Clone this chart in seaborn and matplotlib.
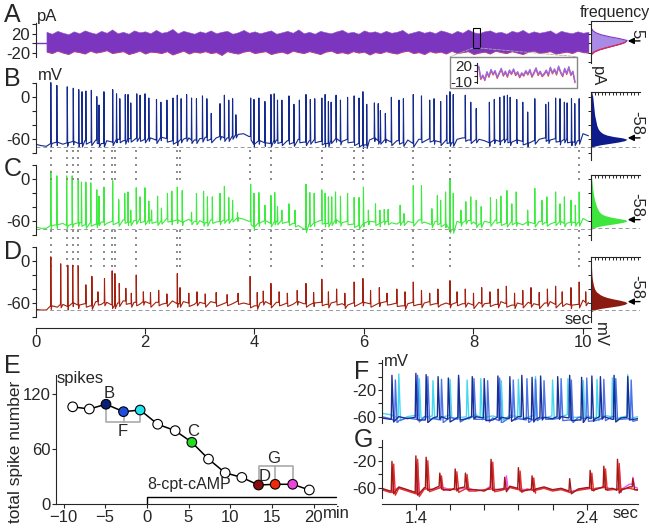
import numpy as np
import matplotlib
matplotlib.use('Agg')
import matplotlib.pyplot as plt
import seaborn as sns
from matplotlib.patches import Rectangle, ConnectionPatch
from matplotlib.transforms import blended_transform_factory

sns.set_style('ticks')
plt.rcParams['font.family'] = ['Liberation Sans', 'DejaVu Sans']
plt.rcParams['axes.linewidth'] = 0.8

# ---------------- data ----------------
# A: current band envelope (pA), sampled every 0.1 s from 0.2 s
a_upper = [24, 20, 26, 22, 19, 25, 21, 27, 23, 20, 26, 22, 29, 21, 24, 20, 27, 23, 25, 21,
           28, 22, 24, 30, 21, 26, 23, 20, 25, 22, 27, 21, 24, 26, 20, 23, 28, 22, 25, 21,
           24, 27, 20, 23, 26, 22, 29, 21, 24, 20, 26, 23, 21, 25, 28, 22, 24, 20, 27, 23,
           25, 21, 26, 22, 24, 28, 20, 23, 26, 22, 25, 21, 27, 24, 20, 26, 22, 29, 23, 21,
           25, 27, 22, 24, 20, 26, 23, 28, 21, 25, 22, 24, 27, 20, 26, 23, 21, 25, 22, 24]
a_lower = [-17, -20, -15, -19, -22, -16, -18, -21, -15, -19, -17, -14, -20, -18, -16, -22, -19, -15, -21, -17,
           -18, -20, -16, -23, -19, -15, -21, -17, -19, -16, -20, -18, -24, -16, -19, -21, -17, -15, -20, -18,
           -16, -22, -19, -17, -21, -15, -18, -20, -16, -19, -22, -17, -15, -20, -18, -21, -16, -19, -17, -23,
           -18, -20, -16, -19, -21, -17, -15, -20, -18, -22, -16, -19, -17, -21, -15, -20, -18, -16, -22, -19,
           -17, -21, -15, -18, -20, -16, -19, -22, -17, -15, -20, -18, -16, -21, -19, -17, -20, -15, -18, -19]
inset_pa = [18, -4, 2, -6, 8, 0, 12, 4, 10, -2, 6, 14, 2, 9, 0, 11, 5, 13, 3, 8, -1, 6, 2, 10,
            4, 12, 0, 7, 15, 3, 9, 1, 5, 11, 2, 16, 6, 13, 4, 18, 8, 1, 14, 5, 17, 3, 9, -10]

# B, C, D: membrane potential baseline (mV) every 0.1 s, 0 .. 10.1 s
b_base = [-67, -69, -70, -66, -64, -67, -65, -63, -66, -62,
          -64, -61, -66, -62, -64, -60, -62, -59, -61, -58,
          -60, -58, -61, -57, -59, -62, -64, -60, -58, -61,
          -59, -57, -60, -58, -56, -58, -55, -53, -52, -56,
          -67, -62, -65, -66, -61, -64, -62, -65, -60, -64,
          -62, -60, -63, -66, -61, -59, -63, -60, -64, -66,
          -68, -61, -58, -62, -60, -64, -62, -65, -61, -66,
          -60, -63, -59, -62, -64, -61, -65, -60, -58, -61,
          -63, -60, -62, -65, -61, -63, -60, -64, -61, -63,
          -66, -62, -60, -58, -61, -59, -63, -60, -64, -62,
          -52, -55]
c_base = [-68, -70, -70, -66, -65, -63, -66, -64, -62, -65,
          -62, -64, -61, -63, -60, -62, -58, -61, -59, -57,
          -60, -58, -61, -59, -56, -60, -58, -61, -57, -60,
          -59, -62, -58, -61, -60, -58, -56, -55, -57, -60,
          -68, -62, -59, -63, -60, -58, -61, -63, -66, -71,
          -63, -62, -59, -63, -61, -58, -62, -60, -64, -66,
          -63, -60, -61, -63, -60, -62, -64, -61, -60, -62,
          -58, -61, -64, -60, -63, -64, -72, -60, -62, -59,
          -61, -64, -60, -62, -58, -61, -63, -60, -62, -65,
          -61, -63, -60, -62, -64, -61, -60, -63, -61, -62,
          -56, -60]
d_base = [-69, -70, -70, -64, -66, -62, -65, -60, -63, -61,
          -64, -58, -62, -59, -63, -60, -57, -61, -59, -62,
          -58, -61, -59, -62, -60, -57, -61, -58, -60, -62,
          -59, -61, -58, -60, -62, -59, -61, -57, -60, -62,
          -64, -60, -58, -62, -59, -63, -60, -62, -58, -61,
          -63, -60, -59, -62, -60, -58, -61, -63, -60, -62,
          -59, -61, -63, -60, -58, -62, -60, -64, -61, -59,
          -62, -60, -58, -61, -63, -60, -62, -59, -61, -60,
          -63, -59, -61, -60, -62, -58, -61, -63, -60, -62,
          -59, -61, -63, -60, -58, -62, -60, -61, -63, -62,
          -56, -59]

# spikes: (time s, peak mV)
b_spikes = [(0.28, 21), (0.39, 17), (0.58, 15), (0.69, 13), (0.79, 11), (0.85, 8), (0.92, 9), (1.02, 10),
            (1.12, 1), (1.16, -11), (1.25, 8), (1.41, 11), (1.48, 5), (1.54, -2), (1.64, 4), (1.69, 4),
            (1.74, -8), (1.85, 5), (1.91, 3), (2.0, 5), (2.07, -1), (2.21, -3), (2.29, -7), (2.4, -4),
            (2.51, -1), (2.59, 3), (2.66, -2), (2.76, 4), (2.85, -1), (2.94, -2), (3.05, 2), (3.13, -2),
            (3.21, -23), (3.37, -9), (3.45, 3), (3.53, -4), (3.6, -2), (3.66, -25), (3.93, -1), (3.99, -3),
            (4.08, -1), (4.19, -6), (4.3, 4), (4.36, 5), (4.42, -4), (4.5, -4), (4.63, 2), (4.72, -10),
            (4.82, -4), (4.94, 4), (5.02, -3), (5.1, -2), (5.23, -1), (5.29, 4), (5.35, -6), (5.4, -7),
            (5.49, 3), (5.57, -4), (5.7, 0), (5.82, 2), (5.91, -1), (5.98, 8), (6.05, -10), (6.19, -8),
            (6.26, -9), (6.3, -19), (6.39, -23), (6.5, 0), (6.64, -4), (6.72, -2), (6.9, 4), (7.05, 2),
            (7.2, -4), (7.28, -2), (7.4, -6), (7.51, 3), (7.57, 8), (7.63, 4), (7.85, 3), (7.95, -7),
            (8.05, -16), (8.29, -7), (8.38, -3), (8.48, 0), (8.56, 2), (8.62, 3), (8.67, 0), (8.79, -3),
            (8.9, -7), (8.99, -21), (9.12, -2), (9.32, -10), (9.37, -7), (9.5, -1), (9.58, -2), (9.66, -7),
            (9.71, -8), (9.79, -2), (9.85, -9), (9.93, -2)]
c_spikes = [(0.28, 12), (0.39, 5), (0.57, 5), (0.67, 5), (0.78, -1), (0.84, -4), (0.92, -4), (1.01, -5),
            (1.12, -15), (1.16, -24), (1.25, -11), (1.41, -2), (1.52, -29), (1.63, -20), (1.69, -18),
            (1.74, -44), (1.84, -12), (1.91, -25), (2.0, -12), (2.07, -31), (2.12, -44), (2.23, -24),
            (2.3, -41), (2.41, -20), (2.49, -17), (2.59, -11), (2.68, -16), (2.85, -47), (2.94, -20),
            (3.07, -17), (3.14, -25), (3.23, -25), (3.37, -20), (3.45, -10), (3.53, -26), (3.6, -30),
            (3.69, -47), (3.93, -7), (3.99, -20), (4.08, -19), (4.19, -37), (4.3, -23), (4.37, -19),
            (4.42, -39), (4.5, -44), (4.63, -35), (4.74, -44), (4.94, -7), (5.01, -19), (5.09, -20),
            (5.23, -15), (5.29, -20), (5.35, -25), (5.41, -25), (5.48, -18), (5.57, -24), (5.7, -20),
            (5.82, -26), (5.91, -26), (5.99, -11), (6.08, -44), (6.21, -35), (6.29, -44), (6.37, -43),
            (6.44, -43), (6.66, -37), (6.73, -49), (6.9, -9), (7.05, -9), (7.24, -42), (7.34, -23),
            (7.4, -30), (7.49, -18), (7.57, 1), (7.63, -20), (7.77, -44), (7.86, -32), (7.95, -25),
            (8.05, -30), (8.14, -39), (8.31, -26), (8.42, -29), (8.5, -24), (8.61, -16), (8.7, -35),
            (8.78, -18), (8.99, -44), (9.12, -13), (9.25, -30), (9.34, -25), (9.5, -18), (9.58, -35),
            (9.66, -25), (9.78, -30), (9.86, -37), (9.93, -18)]
d_spikes = [(0.28, 6), (0.46, -4), (0.59, -6), (0.68, -6), (0.78, -8), (0.92, -34), (1.03, -22),
            (1.14, -44), (1.26, -25), (1.40, -14), (1.45, -18), (1.53, -32), (1.65, -39), (1.75, -46),
            (1.84, -20), (1.97, -44), (2.1, -45), (2.25, -42), (2.4, -47), (2.59, -18), (2.64, -38),
            (2.8, -46), (2.95, -44), (3.1, -47), (3.3, -45), (3.5, -48), (3.7, -46), (3.92, -22),
            (4.05, -45), (4.16, -43), (4.30, -32), (4.45, -44), (4.6, -46), (4.78, -42), (4.94, -32),
            (5.08, -45), (5.23, -26), (5.35, -44), (5.5, -40), (5.65, -46), (5.82, -30), (5.98, -25),
            (6.12, -42), (6.28, -38), (6.42, -46), (6.6, -40), (6.75, -44), (6.9, -30), (7.05, -42),
            (7.2, -46), (7.35, -40), (7.57, -28), (7.7, -44), (7.85, -40), (8.0, -46), (8.15, -38),
            (8.3, -44), (8.45, -40), (8.6, -36), (8.75, -46), (8.9, -42), (9.05, -38), (9.2, -45),
            (9.35, -40), (9.5, -36), (9.62, -44), (9.78, -38), (9.93, -30), (10.05, -44)]

# times of the spikes shared by B, C and D (dotted lines)
shared_t = [0.28, 0.57, 0.68, 0.78, 1.02, 1.25, 1.40, 1.46, 1.84, 2.58, 2.64, 3.92, 4.30,
            5.23, 5.82, 5.98, 6.9, 7.57, 9.93]

# amplitude histograms
hist_a_pa = [-26, -22, -18, -14, -10, -6, -2, 2, 6, 10, 14, 18, 22, 26, 30, 34]
hist_a_f = [0, 0.03, 0.1, 0.22, 0.4, 0.6, 0.8, 0.95, 1.0, 0.78, 0.5, 0.28, 0.14, 0.06, 0.02, 0]
hist_mv = [-74, -72, -70, -68, -66, -64, -62, -60, -58, -56, -54, -52, -50, -48, -46, -44,
           -40, -35, -30, -25, -20, -15, -10, -5, 0, 5, 10, 15]
hist_b_f = [0, 0.02, 0.08, 0.25, 0.5, 0.75, 0.93, 1.0, 0.88, 0.62, 0.44, 0.34, 0.28, 0.24, 0.21,
            0.19, 0.16, 0.14, 0.12, 0.1, 0.09, 0.08, 0.07, 0.06, 0.05, 0.03, 0.015, 0]
hist_c_f = [0, 0.02, 0.06, 0.18, 0.4, 0.66, 0.88, 1.0, 0.95, 0.72, 0.52, 0.38, 0.3, 0.25, 0.22,
            0.2, 0.16, 0.13, 0.1, 0.08, 0.065, 0.05, 0.04, 0.03, 0.02, 0.01, 0.005, 0]
hist_d_f = [0, 0.02, 0.08, 0.24, 0.5, 0.76, 0.93, 1.0, 0.95, 0.8, 0.6, 0.44, 0.33, 0.25, 0.2,
            0.15, 0.1, 0.07, 0.05, 0.035, 0.025, 0.02, 0.015, 0.01, 0.008, 0.004, 0.002, 0]

# E: spike count over time
e_min = [-8.9, -6.9, -4.9, -2.8, -0.8, 1.3, 3.4, 5.4, 7.4, 9.4, 11.4, 13.4, 15.4, 17.5, 19.5]
e_spk = [106, 103.6, 108.8, 100.7, 102.5, 87, 80, 67.3, 49, 34, 29, 20.7, 21.5, 21.5, 15.3]
e_cond = ['ctl', 'ctl', 'B', 'F2', 'F3', 'ctl', 'ctl', 'C', 'ctl', 'ctl', 'ctl', 'D', 'G2', 'G3', 'ctl']
e_colors = {'ctl': 'white', 'B': '#0b1f7a', 'F2': '#1d4ce0', 'F3': '#22e3ef', 'C': '#22dd22',
            'D': '#8b0c0c', 'G2': '#ee2a08', 'G3': '#ee44dd'}

# F and G: overlaid traces, baseline every 0.05 s from 1.2 s
f_navy = [-62, -64, -60, -63, -61, -65, -62, -60, -64, -61, -63, -60, -62, -65, -61, -63,
          -60, -62, -64, -61, -63, -60, -62, -65, -61, -63, -60, -64, -62, -61, -63]
f_blue = [-60, -63, -66, -62, -64, -60, -63, -65, -61, -64, -62, -60, -64, -62, -66, -61,
          -63, -65, -62, -60, -64, -62, -65, -61, -63, -66, -62, -60, -64, -63, -65]
f_cyan = [-55, -57, -62, -60, -58, -62, -59, -61, -58, -62, -60, -57, -61, -59, -62, -58,
          -60, -61, -58, -62, -59, -60, -57, -61, -59, -62, -58, -60, -61, -59, -60]
f_navy_sp = [(1.26, 2), (1.40, 5), (1.46, 3), (1.53, 0), (1.59, -2), (1.65, 2), (1.73, 0), (1.80, -3),
             (1.88, 1), (1.95, 0), (2.02, 2), (2.08, -1), (2.13, 1), (2.23, 0), (2.30, 2), (2.37, -1),
             (2.43, 1), (2.48, 0), (2.56, 2), (2.64, 0)]
f_blue_sp = [(1.28, -5), (1.41, 2), (1.47, 0), (1.55, -4), (1.65, -2), (1.74, -3), (1.82, -6),
             (1.89, -2), (1.97, -5), (2.05, -3), (2.10, -4), (2.15, -6), (2.25, -3), (2.31, -5),
             (2.40, -2), (2.50, -4), (2.57, -3), (2.66, -5)]
f_cyan_sp = [(1.30, 4), (1.42, -3), (1.50, -6), (1.60, -4), (1.70, -5), (1.78, -3), (1.90, -6),
             (2.00, -4), (2.10, 0), (2.20, -5), (2.29, -3), (2.38, -6), (2.46, -4), (2.55, -2), (2.64, 3)]

g_dark = [-60, -64, -58, -62, -66, -59, -61, -57, -63, -60, -58, -62, -64, -59, -61, -57,
          -60, -63, -61, -58, -62, -60, -64, -61, -59, -62, -58, -60, -63, -58, -62]
g_red = [-62, -66, -60, -64, -68, -61, -63, -59, -61, -62, -60, -64, -62, -61, -63, -59,
         -62, -61, -63, -60, -64, -62, -66, -63, -61, -60, -59, -62, -61, -60, -63]
g_mag = [-61, -65, -59, -63, -66, -60, -62, -58, -62, -61, -59, -63, -63, -57, -62, -58,
         -61, -62, -62, -59, -63, -61, -65, -62, -60, -61, -58, -61, -62, -54, -60]
g_dark_sp = [(1.26, -21), (1.40, -13), (1.46, -15), (1.54, -38), (1.63, -32), (1.69, -38), (1.84, -18),
             (1.92, -44), (2.0, -30), (2.08, -42), (2.30, -46), (2.42, -34), (2.50, -28), (2.58, -18),
             (2.67, -46)]
g_red_sp = [(1.27, -25), (1.41, -18), (1.47, -20), (1.55, -42), (1.64, -36), (1.70, -40), (1.85, -22),
            (2.01, -35), (2.09, -45), (2.43, -38), (2.51, -32), (2.59, -24)]
g_mag_sp = [(1.41, -22), (1.84, -25), (1.93, -42), (2.59, -30), (2.67, -44)]


def make_trace(tb, vb, spikes, rise, fall, ahp):
    tb = np.asarray(tb, float)
    vb = np.asarray(vb, float)
    keep = np.ones(len(tb), bool)
    ts_all, vs_all = [], []
    for ts, pk in spikes:
        foot = vb[int(np.abs(tb - ts).argmin())]
        keep &= ~((tb > ts - rise) & (tb < ts + fall))
        ts_all += [ts - rise, ts, ts + fall]
        vs_all += [foot, pk, foot - ahp]
    t = np.concatenate([tb[keep], ts_all])
    v = np.concatenate([vb[keep], vs_all])
    o = np.argsort(t, kind='stable')
    return t[o], v[o]


W, H = 649, 528
fig = plt.figure(figsize=(W / 100, H / 100), dpi=100)


def px_ax(x0, y0, x1, y1):
    ax = fig.add_axes([x0 / W, 1 - y1 / H, (x1 - x0) / W, (y1 - y0) / H])
    ax.set_facecolor('none')
    return ax


def ftext(x, y, s, **kw):
    fig.text(x / W, 1 - y / H, s, **kw)


def trace_style(ax, ticks, labels):
    for s in ['top', 'right', 'bottom']:
        ax.spines[s].set_visible(False)
    ax.set_xticks([])
    ax.set_yticks(ticks)
    ax.set_yticklabels(labels)
    ax.tick_params(axis='y', length=3, width=0.8, pad=1, labelsize=12)


T0, T1 = 0, 10.15
XL, XR = 35.5, 591.2
tgrid = np.round(np.arange(len(b_base)) * 0.1, 2)

# ---- A ----
ax_a = px_ax(XL, 22.7, XR, 56.7)
ta = np.round(0.2 + np.arange(len(a_upper)) * 0.1, 2)
ax_a.fill_between(ta, np.array(a_lower) - 1.5, 0, color='#e8283c', lw=0)
ax_a.fill_between(ta, a_lower, a_upper, color='#7b35bf', lw=0.4, edgecolor='#8f55cc')
sns.lineplot(x=[0, 0.2], y=[0, 0], ax=ax_a, color='#7b35bf', lw=1)
ax_a.set_xlim(T0, T1)
ax_a.set_ylim(-28, 43)
trace_style(ax_a, [40, 20, 0, -20], ['', '20', '', '-20'])
ax_a.add_patch(Rectangle((7.99, -10), 0.13, 42, fill=False, ec='black', lw=0.8))

# inset
ins = px_ax(476.7, 56.7, 577, 88.3)
xi = np.arange(len(inset_pa))
sns.lineplot(x=xi, y=np.array(inset_pa) - 2, ax=ins, color='#e84040', lw=0.9)
sns.lineplot(x=xi, y=inset_pa, ax=ins, color='#9a6ae0', lw=1.0)
ins.set_xlim(-1, len(inset_pa))
ins.set_ylim(-21.9, 35)
trace_style(ins, [20, 10, 0, -10], ['20', '', '', '-10'])
ins.spines['left'].set_bounds(-13, 23)
ins.tick_params(axis='y', labelsize=11, length=2)
fig.add_artist(Rectangle((450 / W, 1 - 88.3 / H), 127 / W, 31.6 / H, transform=fig.transFigure,
                         fill=False, ec='#888888', lw=1))
for xa, xf in [(7.99, 450), (8.12, 577)]:
    fig.add_artist(ConnectionPatch((xa, -10), (xf / W, 1 - 56.7 / H), coordsA=ax_a.transData,
                                   coordsB=fig.transFigure, color='#aaaaaa', lw=0.6, ls='--'))

# ---- B, C, D ----
panels = [(81.7, 153.3, 22.3, b_base, b_spikes, '#142a8f'),
          (164.0, 235.3, 21.9, c_base, c_spikes, '#3cec3c'),
          (245.6, 317.0, 22.0, d_base, d_spikes, '#a3200f')]
trace_axes = []
for y0, y1, top, base, sp, col in panels:
    ax = px_ax(XL, y0, XR, y1)
    t, v = make_trace(tgrid, base, sp, 0.004, 0.008, 5)
    sns.lineplot(x=t, y=v, ax=ax, color=col, lw=0.8, sort=False, estimator=None)
    ax.axhline(-70.5, color='#999999', lw=0.7, ls=(0, (4, 3)))
    ax.set_xlim(T0, T1)
    ax.set_ylim(-80, top)
    trace_style(ax, [20, 0, -20, -40, -60, -80], ['', '0', '', '', '-60', ''])
    ax.spines['left'].set_bounds(-80, 20)
    trace_axes.append(ax)

# dotted lines marking shared spikes
tr = blended_transform_factory(trace_axes[1].transData, fig.transFigure)
for ts in shared_t:
    for ya, yb in [(150, 180), (230, 268)]:
        trace_axes[1].plot([ts, ts], [1 - ya / H, 1 - yb / H], transform=tr, clip_on=False,
                           color='#888888', lw=1.4, ls=(0, (1, 2.6)))

# time axis
ax_t = px_ax(XL, 320, XR, 328.3)
for s in ['top', 'right', 'left']:
    ax_t.spines[s].set_visible(False)
ax_t.set_yticks([])
ax_t.set_xlim(T0, T1)
ax_t.set_xticks([0, 2, 4, 6, 8, 10])
ax_t.tick_params(axis='x', length=4, width=0.8, pad=1, labelsize=12)

# ---- histograms ----
hists = [(20.7, 63.0, 47.6, -41.5, hist_a_pa, hist_a_f, '#a98be6', 5, '5', 0.475),
         (91.7, 160.0, 8.0, -89.6, hist_mv, hist_b_f, '#0d1b8c', -58, '-58', 0.7),
         (175.0, 240.0, 6.2, -87.3, hist_mv, hist_c_f, '#3ee63e', -58, '-58', 0.7),
         (256.7, 321.7, 6.1, -86.7, hist_mv, hist_d_f, '#8b1a10', -58, '-58', 0.7)]
for i, (y0, y1, top, bot, hv, hf, col, ya, lab, pxu) in enumerate(hists):
    ax = px_ax(591, y0, 640, y1)
    ax.fill_betweenx(hv, 0, hf, color=col, lw=0)
    if i == 0:
        ax.plot(hf, hv, color='#7b35bf', lw=0.8)
        ax.plot(hf[:8], hv[:8], color='#e8283c', lw=0.8)
        ax.set_yticks([40, 20, 0, -20, -40])
    else:
        ax.axhline(-70.5, color='#999999', lw=0.7, ls=(0, (4, 3)))
        ax.set_yticks([0, -20, -40, -60, -80])
    ax.set_xlim(0, 1.36)
    ax.set_ylim(bot, top)
    ax.spines['right'].set_visible(False)
    ax.spines['bottom'].set_visible(False)
    if i == 0:
        ax.spines['top'].set_bounds(0, 1.13)
        ax.set_xticks([])
    else:
        ax.set_xticks(np.arange(0.1, 1.36, 0.1))
    ax.xaxis.tick_top()
    ax.tick_params(axis='x', direction='in', length=2, width=0.7, labeltop=False)
    ax.tick_params(axis='y', length=2, width=0.7, labelleft=False)
    ax.annotate('', xy=(1.02, ya), xytext=(1.36, ya), annotation_clip=False,
                arrowprops=dict(arrowstyle='-|>', color='black', lw=1, mutation_scale=9,
                                shrinkA=0, shrinkB=0))
    ax.text(1.28, ya + 3 / pxu, lab, rotation=270, ha='center', va='bottom', fontsize=12,
            clip_on=False)

ftext(615, 13, 'frequency', ha='center', va='center', fontsize=11.5)
ftext(597, 66, 'pA', ha='center', va='top', rotation=270, fontsize=12)
ftext(600, 322, 'mV', ha='center', va='top', rotation=270, fontsize=12)
ftext(590, 320, 'sec', ha='right', va='center', fontsize=12)
ftext(37, 17, 'pA', ha='left', va='center', fontsize=12)
ftext(38, 76, 'mV', ha='left', va='center', fontsize=12)

# ---- E ----
ax_e = px_ax(56, 375, 336, 504)
sns.lineplot(x=e_min, y=e_spk, ax=ax_e, color='black', lw=1.1, sort=False)
ax_e.plot([e_min[2], e_min[2], e_min[4], e_min[4]], [e_spk[2], 89, 89, e_spk[4]], color='#aaaaaa', lw=1.2)
ax_e.plot([e_min[3], e_min[3]], [89, e_spk[3]], color='#aaaaaa', lw=1.2)
ax_e.plot([e_min[11], e_min[11], e_min[13], e_min[13]], [e_spk[11], 41.5, 41.5, e_spk[13]],
          color='#aaaaaa', lw=1.2)
ax_e.plot([e_min[12], e_min[12]], [41.5, e_spk[12]], color='#aaaaaa', lw=1.2)
sns.scatterplot(x=e_min, y=e_spk, hue=e_cond, palette=e_colors, ax=ax_e, s=48,
                edgecolor='black', linewidth=0.8, legend=False, zorder=3)
ax_e.plot([0, 0, 22.7], [0, 7.3, 7.3], color='black', lw=1, clip_on=False)
ax_e.text(0.1, 13, '8-cpt-cAMP', ha='left', va='bottom', fontsize=11.5)
ax_e.text(-4.5, 120, 'B', ha='center', va='center', fontsize=12)
ax_e.text(-2.9, 79, 'F', ha='center', va='center', fontsize=12)
ax_e.text(5.6, 79, 'C', ha='center', va='center', fontsize=12)
ax_e.text(14.1, 30.5, 'D', ha='center', va='center', fontsize=12)
ax_e.text(15.2, 49.5, 'G', ha='center', va='center', fontsize=12)
ax_e.set_xlim(-10.9, 22.7)
ax_e.set_ylim(0, 140.7)
ax_e.set_xticks([-10, -5, 0, 5, 10, 15, 20])
ax_e.set_yticks([0, 60, 120])
ax_e.tick_params(length=3, width=0.8, pad=1, labelsize=12)
sns.despine(ax=ax_e)
ftext(16, 452, 'total spike number', ha='center', va='center', rotation=90, fontsize=12.5)
ftext(57, 379, 'spikes', ha='left', va='center', fontsize=12)
ftext(323, 514, 'min', ha='left', va='center', fontsize=12)

# ---- F and G ----
tfg = np.round(1.2 + np.arange(len(f_navy)) * 0.05, 3)
ax_f = px_ax(381.7, 360, 638, 423.3)
for base, sp, col in [(f_cyan, f_cyan_sp, '#45d8f0'), (f_blue, f_blue_sp, '#4a72ea'),
                      (f_navy, f_navy_sp, '#1a2f95')]:
    t, v = make_trace(tfg, base, sp, 0.004, 0.01, 4)
    sns.lineplot(x=t, y=v, ax=ax_f, color=col, lw=1.0, sort=False, estimator=None)
ax_f.set_xlim(1.2, 2.7)
ax_f.set_ylim(-70, 25)
trace_style(ax_f, [20, 0, -20, -40, -60], ['', '', '-20', '', '-60'])

ax_g = px_ax(381.7, 440, 638, 498.3)
for base, sp, col in [(g_mag, g_mag_sp, '#ee55ee'), (g_red, g_red_sp, '#e8302a'),
                      (g_dark, g_dark_sp, '#a01818')]:
    t, v = make_trace(tfg, base, sp, 0.004, 0.01, 4)
    sns.lineplot(x=t, y=v, ax=ax_g, color=col, lw=1.0, sort=False, estimator=None)
ax_g.set_xlim(1.2, 2.7)
ax_g.set_ylim(-74.5, 10)
trace_style(ax_g, [0, -20, -40, -60], ['', '-20', '', '-60'])

ax_fg = px_ax(381.7, 495, 638, 504)
for s in ['top', 'right', 'left']:
    ax_fg.spines[s].set_visible(False)
ax_fg.set_yticks([])
ax_fg.set_xlim(1.2, 2.7)
ax_fg.set_xticks([1.4, 1.6, 1.8, 2.0, 2.2, 2.4])
ax_fg.set_xticklabels(['1.4', '', '', '', '', '2.4'])
ax_fg.tick_params(axis='x', length=4, width=0.8, pad=1, labelsize=12)
ftext(638, 514, 'sec', ha='right', va='center', fontsize=12)
ftext(384, 361, 'mV', ha='left', va='center', fontsize=12)

# panel letters
for lab, x, y in [('A', 4, 15), ('B', 4, 79), ('C', 4, 169), ('D', 4, 252), ('E', 4, 366),
                  ('F', 354, 372), ('G', 354, 440)]:
    ftext(x, y, lab, ha='left', va='center', fontsize=18)

fig.savefig('out.png', dpi=100)
